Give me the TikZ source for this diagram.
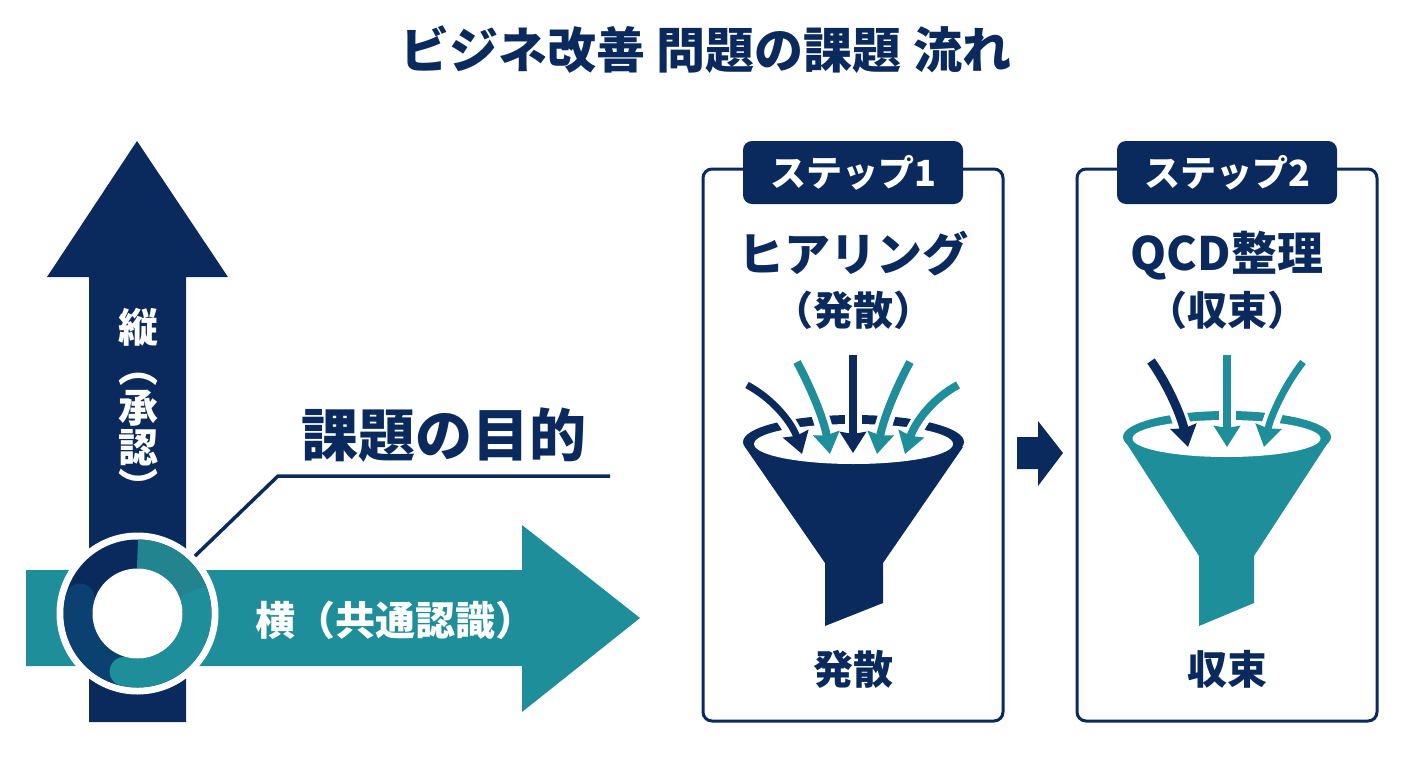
\documentclass[tikz,border=0pt]{standalone}
\usepackage{fontspec}
\setmainfont{Noto Sans CJK JP}
\usetikzlibrary{arrows.meta}
\definecolor{navy}{HTML}{0A2A5E}
\definecolor{teal}{HTML}{1F8E9B}
\definecolor{tealblue}{HTML}{22848F}
\definecolor{midblue}{HTML}{0A4170}

\begin{document}
\begin{tikzpicture}[x=1pt,y=-1pt,font=\bfseries,
  card/.style={draw=navy,line width=3pt,rectangle,rounded corners=9pt,inner sep=0pt,minimum width=300pt,minimum height=552pt},
  tab/.style={fill=navy,text=white,rectangle,rounded corners=9pt,inner sep=0pt,minimum width=220pt,minimum height=63pt,font=\bfseries\fontsize{36}{36}\selectfont},
  head/.style={text=navy,font=\bfseries\fontsize{46}{46}\selectfont},
  sub/.style={text=navy,font=\bfseries\fontsize{40}{40}\selectfont},
  flow/.style={line width=#1,-{Stealth[length=21pt,width=26pt,inset=2pt]},preaction={draw=white,line width=17pt,-}},
  flow/.default=8pt]
  \useasboundingbox (0,0) rectangle (1408,768);

  \node (title) at (706,50) [text=navy,font=\bfseries\fontsize{49}{49}\selectfont] {ビジネ改善 問題の課題 流れ};

  % big arrows
  \fill[navy] (89,722) -- (89,277) -- (47,277) -- (137,141) -- (228,277) -- (186,277) -- (186,722) -- cycle;
  \fill[teal] (26,570) -- (522,570) -- (522,525) -- (640,618) -- (522,712) -- (522,666) -- (26,666) -- cycle;
  \node (tate) at (138,405) [text=white,align=center,font=\bfseries\fontsize{40}{40}\selectfont] {縦\\︵\\承\\認\\︶};
  \node (yoko) at (395,620) [text=white,font=\bfseries\fontsize{40}{40}\selectfont] {横（共通認識）};

  % circle on the crossing
  \node (hub) at (137.5,613.5) [circle,fill=white,inner sep=0pt,minimum size=162pt] {};
  \fill[navy] (hub.center) circle (74);
  \begin{scope}[shift={(137.5,613.5)},y=1pt,line width=29pt]
    \draw[midblue,line cap=round] (165:59.5) arc (165:255:59.5);
    \draw[teal,line cap=round] (22:59.5) arc (22:-103:59.5);
    \draw[tealblue] (90:59.5) arc (90:22:59.5);
  \end{scope}
  \node (hole) at (hub.center) [circle,fill=white,inner sep=0pt,minimum size=90pt] {};

  \node (goal) at (444,435) [text=navy,font=\bfseries\fontsize{57}{57}\selectfont] {課題の目的};
  \coordinate (knee) at (278,476);
  \coordinate (lineend) at (610,476);
  \draw[navy,line width=3.5pt] (hub.45) -- (knee) -- (lineend);

  % step 1
  \node (card1) at (853,445) [card] {};
  \node (tab1) at (853,172.5) [tab] {ステップ1};
  \node (head1) at (853,254) [head] {ヒアリング};
  \node (sub1) at (853,310) [sub] {（発散）};
  \fill[navy] (853.5,442) ellipse [x radius=110.5,y radius=27];
  \fill[navy] (745,447) -- (825,563) -- (825,626) -- (883,603) -- (883,563) -- (963,447) -- cycle;
  \fill[white] (853.5,444) ellipse [x radius=99.5,y radius=20];
  \draw[flow=7pt,navy] (747,385) .. controls (775,400) and (793,425) .. (802,454);
  \draw[flow,teal] (797,362) .. controls (812,390) and (824,420) .. (830,454);
  \draw[flow,navy] (853,355) -- (853,453);
  \draw[flow,teal] (910,362) .. controls (895,390) and (883,420) .. (877,454);
  \draw[flow,teal] (958,385) .. controls (930,400) and (914,425) .. (905,454);
  \node (out1) at (853,669) [sub] {発散};

  % arrow between the steps
  \fill[navy] (1017,437) -- (1038,437) -- (1038,421) -- (1063,453) -- (1038,486) -- (1038,469) -- (1017,469) -- cycle;

  % step 2
  \node (card2) at (1227,445) [card] {};
  \node (tab2) at (1227,172.5) [tab] {ステップ2};
  \node (head2) at (1227,256) [head] {QCD整理};
  \node (sub2) at (1227,310) [sub] {（収束）};
  \fill[teal] (1227,437) ellipse [x radius=104,y radius=26];
  \fill[teal] (1125,441) -- (1199,556) -- (1199,626) -- (1254,603) -- (1254,556) -- (1329,441) -- cycle;
  \fill[white] (1226.5,438.5) ellipse [x radius=94,y radius=18.5];
  \draw[flow=9pt,navy] (1151,361) .. controls (1168,385) and (1181,415) .. (1188,447);
  \draw[flow,teal] (1227,355) -- (1227,447);
  \draw[flow=7pt,teal] (1303,362) .. controls (1285,385) and (1271,415) .. (1264,447);
  \node (out2) at (1227,669) [sub] {収束};
\end{tikzpicture}
\end{document}
